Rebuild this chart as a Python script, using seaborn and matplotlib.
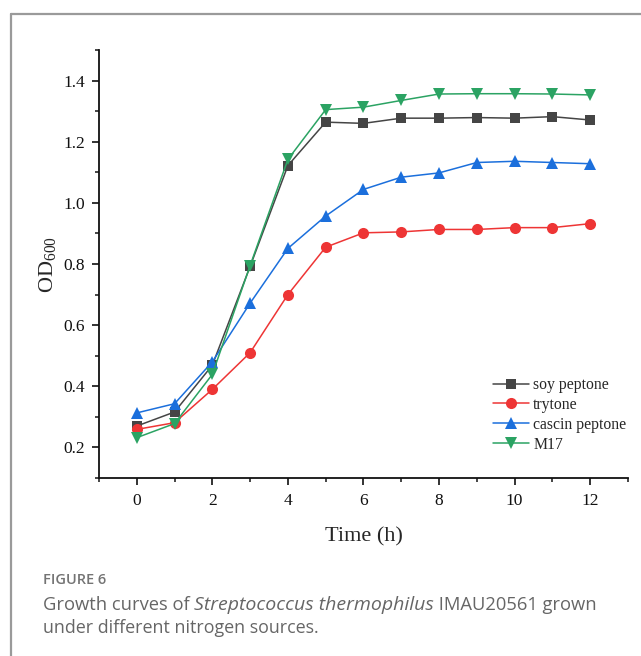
import numpy as np
import pandas as pd
import seaborn as sns
import matplotlib.pyplot as plt
from matplotlib.lines import Line2D
from matplotlib.ticker import MultipleLocator

hours = list(range(13))
soy_peptone = [0.270, 0.316, 0.469, 0.792, 1.122, 1.264, 1.260, 1.277, 1.277, 1.279, 1.277, 1.282, 1.271]
trytone = [0.259, 0.281, 0.390, 0.510, 0.700, 0.855, 0.902, 0.905, 0.913, 0.913, 0.919, 0.919, 0.932]
cascin_peptone = [0.313, 0.343, 0.480, 0.672, 0.851, 0.957, 1.044, 1.084, 1.098, 1.132, 1.136, 1.132, 1.128]
m17 = [0.232, 0.278, 0.439, 0.795, 1.142, 1.305, 1.313, 1.335, 1.356, 1.357, 1.357, 1.356, 1.353]

sources = ['soy peptone', 'trytone', 'cascin peptone', 'M17']
colors = ['#454545', '#ee3535', '#1b6fdc', '#2ba363']
markers = ['s', 'o', '^', 'v']
msizes = [7, 8, 8.5, 8.5]

df = pd.DataFrame({
    'Time': hours * 4,
    'OD': soy_peptone + trytone + cascin_peptone + m17,
    'source': [s for s in sources for _ in hours],
})

sns.set_style('ticks')
plt.rcParams['font.family'] = ['Liberation Serif', 'DejaVu Serif']
plt.rcParams['mathtext.fontset'] = 'custom'
plt.rcParams['mathtext.rm'] = 'Liberation Serif'

fig = plt.figure(figsize=(6.41, 6.56), dpi=100)
ax = fig.add_axes([0.1544, 0.2713, 0.8253, 0.6525])

sns.lineplot(data=df, x='Time', y='OD', hue='source', style='source',
             palette=dict(zip(sources, colors)), markers=dict(zip(sources, markers)),
             dashes=False, markersize=8, linewidth=1.1, markeredgewidth=0,
             ax=ax, legend=False)
# per-series marker size, squares look bigger than the rest at equal size
for line, ms in zip(ax.lines, msizes):
    line.set_markersize(ms)

ax.set_xlim(-1, 13)
ax.set_ylim(0.1, 1.5)
ax.xaxis.set_major_locator(MultipleLocator(2))
ax.xaxis.set_minor_locator(MultipleLocator(1))
ax.yaxis.set_major_locator(MultipleLocator(0.2))
ax.yaxis.set_minor_locator(MultipleLocator(0.1))
ax.tick_params(which='major', length=5, width=1.2, labelsize=12.5, colors='#111111', pad=5)
ax.tick_params(axis='x', which='major', pad=6)
ax.tick_params(which='minor', length=3, width=1.2)
ax.yaxis.set_major_formatter(plt.FuncFormatter(lambda v, p: f'{v:.1f}'))
for s in ['left', 'bottom']:
    ax.spines[s].set_linewidth(1.3)
    ax.spines[s].set_color('#111111')
sns.despine(ax=ax)

ax.set_xlabel('Time (h)', fontsize=16, labelpad=13)
ax.set_ylabel('OD$_{\\mathrm{600}}$', fontsize=16, labelpad=3)

handles = [Line2D([], [], color=c, marker=m, markersize=ms, markeredgewidth=0, linewidth=1.1)
           for c, m, ms in zip(colors, markers, msizes)]
ax.legend(handles, sources, loc='upper left', bbox_to_anchor=(0.745, 0.236), frameon=False,
          fontsize=11.3, handlelength=2.3, handletextpad=0.25, labelspacing=0.25, borderpad=0,
          borderaxespad=0)

# outer panel border (top and left)
fig.add_artist(Line2D([11 / 641, 1], [1 - 14 / 656, 1 - 14 / 656], color='#9a9a9a', linewidth=1.6))
fig.add_artist(Line2D([11 / 641, 11 / 641], [0, 1 - 14 / 656], color='#9a9a9a', linewidth=1.6))

cap = ['Open Sans', 'DejaVu Sans']
fig.text(43 / 641, 1 - 580 / 656, 'FIGURE 6', family=cap, fontsize=10.5, weight='semibold',
         color='#747474', va='center')

# first caption line is built piece by piece so the species name can be italic
renderer = fig.canvas.get_renderer()
x = 43
for piece, style, size in [('Growth curves of ', 'normal', 13.2),
                           ('Streptococcus thermophilus', 'italic', 14.0),
                           (' IMAU20561 grown', 'normal', 13.2)]:
    t = fig.text(x / 641, 1 - 605 / 656, piece, family=cap, style=style, fontsize=size,
                 color='#666666', va='center')
    x += t.get_window_extent(renderer).width
fig.text(43 / 641, 1 - 628 / 656, 'under different nitrogen sources.',
         family=cap, fontsize=12.9, color='#666666', va='center')

fig.savefig('out.png', dpi=100)
